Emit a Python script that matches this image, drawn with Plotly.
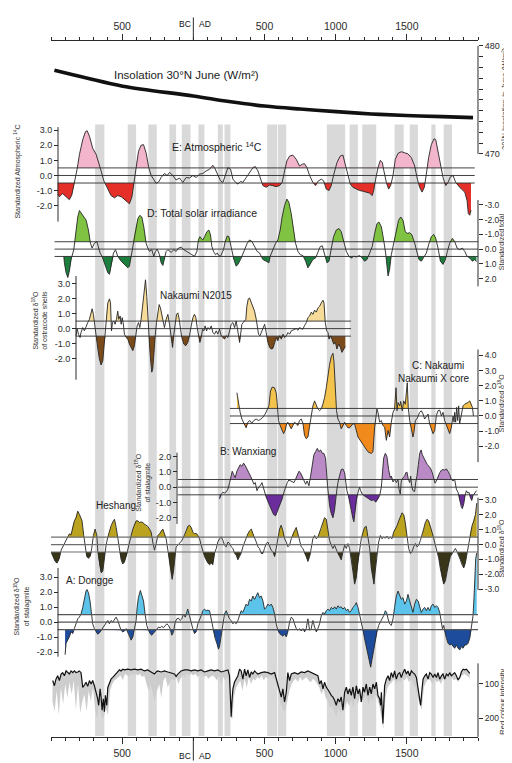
import numpy as np
import plotly.graph_objects as go

# ---------------- data (years AD; BC negative) ----------------
ins_points = [(-976, 477.75), (-750, 477.03), (-496, 476.27), (0, 475.36), (250, 474.85), (500, 474.43),
              (750, 474.15), (1004, 473.91), (1250, 473.7), (1497, 473.55), (1750, 473.45), (1965, 473.36)]

e_points = [(-953, -1.25), (-941, -1.4), (-918, -1.2), (-894, -1.43), (-871, -1.6), (-854, -1.3), (-836, -0.57), (-817, 0.4),
            (-800, 1.4), (-777, 2.37), (-758, 2.9), (-746, 2.96), (-730, 2.6), (-707, 1.8), (-683, 1.4), (-660, 0.74),
            (-648, 0.3), (-629, -0.35), (-606, -0.78), (-578, -1.33), (-554, -1.48), (-531, -1.33), (-507, -1.4),
            (-479, -1.6), (-449, -1.87), (-432, -1.43), (-418, -0.57), (-402, 0.74), (-385, 1.6), (-367, 2.0),
            (-350, 2.04), (-332, 1.5), (-313, 0.52), (-296, 0.0), (-278, -0.24), (-261, -0.52), (-242, -0.41),
            (-226, -0.13), (-203, 0.13), (-184, 0.0), (-167, 0.2), (-144, 0.0), (-121, -0.3), (-97, -0.17),
            (-74, -0.46), (-50, -0.13), (-27, -0.17), (-3, 0.0), (20, -0.13), (44, 0.09), (67, 0.13), (90, 0.3),
            (114, 0.41), (137, 0.67), (149, 0.52), (172, 0.09), (191, -0.35), (208, -0.46), (224, 0.0), (243, 0.52),
            (262, 0.41), (278, -0.24), (297, -0.46), (313, -0.57), (332, -0.39), (348, -0.46), (372, -0.13),
            (395, 0.2), (419, 0.52), (435, 0.59), (454, 0.3), (477, -0.35), (489, -0.67), (512, -0.78), (535, -0.63),
            (559, -0.67), (582, -0.74), (606, -0.67), (624, -0.46), (641, 0.3), (657, 0.96), (676, 1.28), (699, 1.35),
            (723, 1.07), (746, 0.63), (765, 0.74), (781, 0.78), (798, 0.52), (817, 0.0), (840, -0.46), (859, -0.67),
            (875, -0.39), (899, -0.24), (915, -0.35), (934, -0.9), (953, -1.0), (969, -0.67), (985, 0.0), (1009, 0.85),
            (1032, 1.28), (1051, 1.35), (1070, 0.63), (1086, 0.0), (1103, -0.57), (1121, -0.78), (1145, -0.9),
            (1168, -1.0), (1192, -1.04), (1215, -1.1), (1239, -1.17), (1257, -1.33), (1267, -1.0), (1281, -0.24),
            (1297, 0.52), (1314, 1.0), (1328, 0.85), (1339, 0.3), (1356, -0.46), (1372, -0.9), (1386, -0.67),
            (1403, 0.0), (1419, 1.07), (1438, 1.46), (1461, 1.57), (1485, 1.5), (1508, 1.43), (1532, 1.17),
            (1555, 0.63), (1574, -0.24), (1590, -0.78), (1607, -1.1), (1623, -0.78), (1637, 0.09), (1653, 1.17),
            (1672, 2.04), (1691, 2.43), (1703, 2.37), (1719, 1.6), (1736, 0.63), (1754, -0.13), (1773, -0.67),
            (1789, -0.46), (1806, -0.09), (1825, 0.0), (1843, -0.46), (1860, -0.67), (1883, -0.9), (1907, -1.1),
            (1923, -1.65), (1932, -2.52), (1942, -2.63), (1951, -2.3)]

d_points = [(-910, 0.49), (-906, 0.93), (-894, 1.6), (-882, 1.93), (-871, 1.49), (-859, 0.71), (-840, 0.04), (-824, -1.29),
            (-812, -2.18), (-800, -2.62), (-777, -2.29), (-753, -1.96), (-737, -1.29), (-723, -0.4), (-711, -0.07),
            (-695, -0.4), (-678, -0.51), (-667, -0.07), (-655, 0.27), (-641, 0.49), (-625, 0.93), (-601, 1.6),
            (-589, 1.71), (-578, 1.16), (-561, 0.27), (-547, 0.04), (-531, 0.49), (-507, 0.82), (-484, 1.04),
            (-460, 1.27), (-449, 1.16), (-437, 0.49), (-425, -0.4), (-409, -1.29), (-390, -2.07), (-376, -2.29),
            (-362, -2.18), (-348, -1.51), (-332, -0.4), (-320, -0.07), (-308, 0.16), (-292, 0.04), (-278, 0.49),
            (-266, 0.16), (-254, 0.0), (-238, 0.38), (-226, 0.93), (-214, 1.11), (-203, 0.71), (-191, 0.16),
            (-179, 0.04), (-156, 0.22), (-137, 0.04), (-121, 0.16), (-104, -0.07), (-85, -0.13), (-67, 0.04),
            (-50, 0.16), (-27, 0.27), (-10, 0.38), (8, 0.49), (25, 0.16), (36, -0.62), (46, -0.84), (55, -0.73),
            (67, -0.62), (79, -0.84), (95, -1.18), (109, -1.29), (121, -0.96), (130, -0.18), (142, 0.16), (156, 0.38),
            (168, 0.27), (179, 0.44), (191, 0.49), (201, 0.27), (212, 0.04), (224, -0.51), (238, -0.89), (250, -0.84),
            (262, -0.29), (273, 0.27), (285, 0.71), (301, 1.16), (313, 1.04), (332, 0.71), (348, 0.27), (365, -0.07),
            (379, -0.4), (395, -0.62), (412, -0.51), (430, -0.18), (449, 0.16), (465, 0.27), (477, 0.49), (489, 0.71),
            (512, 0.82), (531, 0.93), (540, 0.49), (559, 0.04), (578, -0.4), (594, -0.62), (610, -1.29), (624, -2.18),
            (641, -2.96), (657, -3.4), (671, -3.18), (688, -2.4), (704, -1.29), (718, -0.4), (735, 0.16), (751, 0.38),
            (770, 0.44), (789, 0.82), (805, 1.27), (821, 1.04), (840, 0.71), (859, 0.6), (875, 0.27), (892, -0.18),
            (906, -0.22), (922, 0.27), (939, 0.93), (953, 0.82), (969, -0.07), (985, -0.84), (1004, -1.29),
            (1023, -1.4), (1039, -1.18), (1056, -0.62), (1075, 0.16), (1093, 0.49), (1110, 0.6), (1126, 0.49),
            (1145, 0.53), (1168, 0.44), (1187, 0.6), (1203, 0.82), (1220, 0.71), (1239, 0.27), (1257, -0.18),
            (1274, -1.07), (1290, -1.73), (1304, -1.84), (1321, -1.51), (1337, -0.62), (1351, 0.27), (1368, 1.82),
            (1379, 1.38), (1391, 0.38), (1407, -0.4), (1426, -1.29), (1442, -1.96), (1457, -2.18), (1473, -1.96),
            (1489, -1.18), (1503, -1.07), (1520, -1.11), (1536, -0.96), (1555, -0.4), (1571, 0.27), (1585, 0.71),
            (1602, 0.82), (1621, 0.49), (1637, 0.27), (1653, -0.29), (1672, -0.84), (1689, -1.0), (1703, -0.73),
            (1719, -0.07), (1736, 0.82), (1754, 1.04), (1771, 0.71), (1785, 0.16), (1801, -0.4), (1820, -0.73),
            (1836, -0.51), (1853, -0.07), (1871, 0.04), (1890, -0.07), (1907, 0.16), (1923, 0.49), (1942, 0.6),
            (1961, 0.82), (1977, 0.71), (1989, 0.85)]

n_points = [(-824, -0.48), (-817, 0.0), (-807, -0.37), (-796, -0.59), (-789, -0.26), (-777, 0.07), (-765, -0.15),
            (-753, 0.18), (-742, 0.4), (-730, 0.62), (-718, 1.05), (-711, 1.32), (-702, 0.95), (-695, 0.4),
            (-688, -0.37), (-678, -0.81), (-671, -1.36), (-660, -2.02), (-648, -2.42), (-636, -2.13), (-625, -0.92),
            (-617, -0.04), (-610, 1.05), (-601, 1.71), (-589, 1.98), (-582, 1.71), (-575, -0.15), (-568, 0.4),
            (-559, 0.51), (-550, 0.29), (-540, 0.62), (-531, 1.16), (-524, 0.62), (-514, 0.84), (-507, 0.29),
            (-500, 0.73), (-493, 0.4), (-484, -0.37), (-472, -0.59), (-460, -0.7), (-449, -1.03), (-437, -1.25),
            (-425, -1.47), (-414, -1.14), (-404, -0.37), (-395, 0.18), (-385, 0.4), (-376, 0.07), (-367, 0.62),
            (-357, 1.49), (-348, 2.59), (-336, 3.25), (-327, 2.15), (-320, 0.73), (-313, -0.48), (-306, -1.36),
            (-299, -2.24), (-292, -2.9), (-285, -2.68), (-278, -1.58), (-268, -0.48), (-259, 0.4), (-249, 1.05),
            (-240, 1.6), (-231, 1.38), (-221, 0.95), (-212, 0.62), (-203, 0.07), (-191, 0.62), (-179, 0.95),
            (-167, 0.29), (-156, -0.59), (-146, -1.25), (-137, -0.37), (-128, 0.4), (-118, 0.95), (-109, 1.05),
            (-99, 0.62), (-90, -0.04), (-81, -0.59), (-67, -1.03), (-53, -1.14), (-39, -0.92), (-27, -0.48),
            (-15, 0.18), (-3, 0.73), (8, 0.95), (18, 0.73), (27, 0.07), (36, -0.48), (46, -0.92), (55, -0.59),
            (65, -0.04), (74, -0.15), (83, 0.18), (93, -0.15), (102, 0.07), (114, -0.04), (126, 0.18), (137, -0.26),
            (149, -0.37), (161, -0.15), (172, -0.37), (184, -0.04), (196, -0.48), (208, -0.59), (219, -0.7),
            (231, -0.48), (243, -0.59), (255, -0.15), (266, 0.29), (278, 0.4), (290, 0.07), (301, 0.51), (308, 0.18),
            (318, -0.48), (325, -0.92), (332, -0.37), (341, 0.29), (351, 0.4), (360, 0.51), (369, 0.62), (376, 1.49),
            (386, 1.98), (395, 2.04), (407, 1.71), (419, 1.49), (430, 1.16), (442, 0.62), (449, 0.29), (458, -0.37),
            (468, -0.48), (477, -0.26), (489, 0.07), (501, 0.29), (512, -0.26), (524, -0.92), (536, -1.25),
            (547, -1.36), (559, -1.32), (571, -0.92), (583, -0.59), (594, -0.81), (606, -0.48), (618, -0.7),
            (630, -0.37), (641, -0.59), (653, -0.48), (665, -0.26), (676, -0.37), (688, -0.15), (700, -0.09),
            (712, -0.04), (723, 0.0), (735, -0.11), (747, 0.07), (758, 0.0), (770, -0.04), (782, 0.22), (794, 0.4),
            (805, 0.73), (817, 0.84), (829, 1.1), (840, 0.95), (852, 1.23), (864, 1.1), (876, 1.38), (887, 1.49),
            (899, 1.71), (911, 1.89), (918, 1.71), (927, 0.4), (937, -0.15), (946, -0.26), (953, -0.7), (965, -0.48),
            (974, -0.7), (986, -1.03), (998, -0.92), (1009, -1.36), (1021, -1.03), (1033, -1.25), (1044, -1.58),
            (1056, -1.36), (1068, -1.19)]

c_points = [(306, 1.54), (317, 0.89), (329, 0.24), (341, -0.2), (355, -0.52), (371, -0.78), (383, -0.41), (397, -0.3),
            (411, -0.48), (425, -0.3), (441, -0.2), (458, -0.3), (472, -0.22), (488, -0.09), (505, 0.13), (519, 0.39),
            (531, 0.67), (542, 1.65), (554, 1.91), (570, 1.87), (582, 1.54), (589, 0.89), (598, -0.3), (610, -0.63),
            (622, -0.85), (634, -1.17), (645, -0.96), (655, -0.52), (664, -0.41), (676, -0.63), (688, -0.85),
            (699, -0.63), (711, -0.41), (723, -0.52), (735, -0.63), (746, -0.3), (758, -0.2), (770, -0.48),
            (781, -1.28), (793, -1.5), (805, -1.39), (816, -0.74), (828, -0.09), (840, 0.67), (852, 1.0), (863, 0.67),
            (875, 0.46), (887, 0.35), (899, 0.46), (910, 0.78), (922, 1.22), (934, 1.87), (945, 2.74), (957, 3.39),
            (969, 3.93), (981, 4.15), (988, 3.61), (997, 1.65), (1006, 0.35), (1016, -0.2), (1027, -0.41),
            (1039, -0.85), (1051, -0.63), (1063, -0.41), (1074, -0.63), (1086, -0.78), (1098, -0.78), (1110, -0.63),
            (1121, -0.52), (1133, -0.52), (1145, -0.96), (1157, -1.39), (1180, -1.72), (1203, -2.04), (1227, -2.37),
            (1250, -2.48), (1262, -2.37), (1274, -0.74), (1281, -0.09), (1290, 0.46), (1297, 0.24), (1309, -0.41),
            (1321, -0.3), (1332, -0.63), (1344, -0.74), (1356, -1.61), (1368, -0.96), (1379, -1.39), (1391, -0.41),
            (1403, 0.24), (1414, 0.46), (1424, 1.87), (1431, 0.35), (1438, 0.89), (1450, 0.67), (1457, 0.96),
            (1468, 0.35), (1478, 1.0), (1489, 0.78), (1496, 1.33), (1503, 2.2), (1510, 0.57), (1520, -0.3),
            (1532, -0.85), (1543, -1.39), (1550, -1.07), (1560, -0.3), (1574, -0.13), (1590, 0.24), (1602, 0.35),
            (1614, 0.13), (1625, -0.2), (1637, 0.0), (1649, 0.13), (1660, -0.52), (1672, -0.85), (1684, -1.17),
            (1696, -0.96), (1707, 0.0), (1719, 0.35), (1731, 0.39), (1743, 0.0), (1754, 0.24), (1766, -0.3),
            (1778, -0.63), (1789, -0.96), (1801, -1.17), (1813, -0.74), (1825, 0.0), (1832, -0.41), (1836, 0.24),
            (1843, -0.41), (1850, 0.57), (1857, -0.3), (1864, 0.67), (1871, -0.52), (1883, 0.24), (1895, 0.67),
            (1906, 0.78), (1918, 0.83), (1930, 0.89), (1942, 1.0), (1954, 0.78), (1961, 0.57), (1968, 0.0)]

w_points = [(184, -0.77), (196, -0.45), (208, -0.34), (219, -0.38), (231, -0.3), (243, -0.13), (255, 0.3), (266, 0.72),
            (273, 1.04), (283, 0.83), (294, 0.62), (306, 1.04), (318, 1.26), (329, 1.47), (341, 1.36), (353, 1.57),
            (365, 1.4), (376, 1.15), (390, 0.94), (402, 0.72), (414, 0.4), (426, 0.19), (435, 0.3), (447, -0.23),
            (458, 0.0), (470, 0.09), (482, 0.3), (500, -0.34), (512, -0.66), (531, -1.09), (547, -1.4), (564, -1.79),
            (578, -1.87), (594, -1.51), (610, -1.09), (624, -0.77), (636, -0.34), (648, 0.0), (660, 0.3), (671, 0.47),
            (683, 0.4), (695, 0.34), (707, 0.3), (718, 0.51), (730, 0.77), (742, 1.04), (753, 0.94), (765, 0.72),
            (777, 0.4), (789, 0.19), (800, 0.4), (812, 0.09), (824, 0.72), (835, 1.57), (847, 2.11), (859, 2.32),
            (871, 2.53), (882, 2.32), (894, 2.43), (906, 2.21), (917, 2.21), (929, 1.89), (936, 0.72), (943, 0.09),
            (950, -0.55), (957, -1.19), (969, -1.72), (981, -2.0), (992, -1.51), (999, -0.77), (1009, -0.13),
            (1018, 0.4), (1028, 0.83), (1039, 1.15), (1051, 1.19), (1063, 0.94), (1070, 0.4), (1079, -0.23),
            (1089, -0.55), (1098, -1.09), (1110, -1.51), (1121, -2.04), (1128, -2.26), (1135, -1.72), (1145, -0.87),
            (1157, -0.34), (1168, 0.0), (1175, -0.23), (1187, -0.45), (1199, -0.55), (1215, -0.66), (1234, -0.77),
            (1250, -0.87), (1267, -0.83), (1281, -0.98), (1297, -0.77), (1309, -0.55), (1321, 0.0), (1328, 0.94),
            (1337, 1.89), (1349, 2.21), (1360, 2.0), (1372, 1.15), (1384, 0.62), (1391, 0.72), (1403, 0.34),
            (1414, 0.51), (1426, 0.3), (1438, 0.51), (1445, -0.13), (1454, -0.45), (1461, 0.4), (1473, 0.62),
            (1485, 0.72), (1492, 0.94), (1501, 0.98), (1510, 0.55), (1520, 0.3), (1527, 0.72), (1534, 0.09),
            (1543, -0.23), (1555, -0.28), (1562, 0.3), (1571, 0.72), (1581, 1.47), (1590, 2.21), (1600, 2.43),
            (1609, 2.11), (1621, 1.89), (1632, 1.68), (1644, 1.47), (1656, 1.36), (1668, 1.19), (1679, 0.94),
            (1689, 0.51), (1698, 0.26), (1707, 0.4), (1719, 0.72), (1731, 0.94), (1743, 1.11), (1754, 1.15),
            (1766, 1.11), (1778, 1.19), (1789, 1.04), (1801, 0.83), (1813, 0.51), (1825, 0.4), (1836, 0.51),
            (1848, -0.13), (1860, -0.34), (1871, -0.87), (1883, -1.3), (1890, -1.4), (1900, -1.09), (1909, -0.55),
            (1918, -0.23), (1928, -0.38), (1937, -0.34), (1946, -0.66), (1956, -0.87), (1965, -0.55), (1977, -0.34),
            (1989, -0.23)]

h_points = [(-1000, -0.48), (-988, -0.8), (-971, -1.13), (-957, -1.24), (-941, -0.91), (-929, -0.37), (-918, -0.15),
            (-906, 0.0), (-894, 0.28), (-882, 0.5), (-871, 0.72), (-859, 0.65), (-847, 1.26), (-836, 1.59),
            (-824, 1.8), (-812, 2.24), (-800, 2.02), (-789, 1.7), (-782, 1.59), (-770, 0.61), (-760, -0.26),
            (-749, -0.8), (-737, -0.91), (-725, -0.8), (-714, -0.26), (-702, 0.61), (-690, 1.04), (-678, 0.61),
            (-671, -0.48), (-660, -1.35), (-648, -1.89), (-636, -1.78), (-625, -0.91), (-613, -0.04), (-601, 0.5),
            (-589, 0.93), (-578, 1.26), (-566, 1.52), (-554, 1.7), (-542, 1.15), (-531, 0.39), (-519, -0.48),
            (-507, -1.02), (-496, -1.3), (-484, -1.17), (-472, -0.8), (-460, -0.26), (-449, 0.28), (-437, 0.61),
            (-425, 1.04), (-414, 1.37), (-402, 1.59), (-390, 1.59), (-378, 1.48), (-367, 1.52), (-355, 1.48),
            (-343, 1.37), (-332, 1.3), (-320, 1.22), (-308, 1.04), (-296, 0.83), (-285, 0.17), (-273, -0.37),
            (-261, 0.07), (-249, 0.61), (-238, 0.72), (-226, 0.93), (-214, 1.04), (-203, 0.72), (-191, 0.39),
            (-179, -0.37), (-167, -1.24), (-156, -2.0), (-149, -2.33), (-139, -1.78), (-132, -0.91), (-121, -0.15),
            (-109, -0.04), (-97, 0.07), (-85, 0.22), (-74, 0.39), (-62, 0.61), (-50, 0.93), (-39, 1.22), (-27, 1.3),
            (-15, 1.15), (-3, 0.83), (8, 0.72), (20, 0.76), (32, 0.61), (44, 0.39), (55, -0.04), (67, -0.48),
            (79, -0.8), (90, -1.02), (102, -1.24), (114, -1.35), (126, -1.24), (137, -1.35), (149, -0.59),
            (161, -0.26), (172, 0.17), (184, 0.39), (196, 0.5), (208, 0.28), (219, -0.04), (231, -0.15), (243, 0.17),
            (255, 0.07), (266, -0.15), (278, -0.26), (290, -0.59), (301, -0.7), (313, -1.02), (325, -0.8),
            (336, -0.59), (348, -0.15), (360, 0.17), (372, 0.5), (383, 0.72), (395, 0.93), (407, 1.04), (419, 0.72),
            (430, 0.5), (442, 0.17), (454, -0.15), (465, -0.26), (477, -0.59), (489, -0.59), (500, -0.26), (512, 0.07),
            (524, 0.17), (535, -0.04), (547, -0.37), (559, -0.48), (571, -0.8), (582, -0.26), (594, 0.39), (606, 1.04),
            (617, 1.3), (629, 0.93), (641, 0.39), (653, 0.17), (664, -0.15), (676, -0.04), (688, 0.39), (699, 0.72),
            (711, 0.93), (723, 1.15), (735, 0.72), (746, 0.17), (758, -0.15), (770, -0.26), (781, -0.59), (793, -0.8),
            (805, -1.13), (817, -0.8), (828, -0.26), (840, 0.39), (852, 0.61), (864, 0.39), (875, 0.5), (887, 0.83),
            (899, 1.04), (910, 1.48), (922, 1.8), (934, 1.7), (946, 0.83), (957, 0.28), (969, -0.04), (981, -0.26),
            (992, -0.04), (1004, -0.37), (1016, -0.59), (1028, -0.8), (1039, -1.02), (1051, -0.48), (1063, -0.04),
            (1075, -0.26), (1086, 0.07), (1098, -0.26), (1110, -0.91), (1121, -1.78), (1133, -2.65), (1145, -2.22),
            (1157, -1.13), (1168, -0.26), (1180, 0.39), (1192, 0.83), (1203, 1.15), (1215, 1.22), (1227, 0.61),
            (1239, -0.26), (1250, -1.57), (1262, -2.43), (1269, -2.65), (1278, -1.78), (1290, -0.59), (1302, 0.17),
            (1314, 0.61), (1325, 0.39), (1337, 0.5), (1349, 0.43), (1360, 0.57), (1372, 0.39), (1384, 0.5),
            (1396, 0.39), (1407, 0.83), (1419, 1.04), (1431, 1.26), (1443, 1.59), (1454, 1.91), (1466, 2.13),
            (1478, 2.02), (1489, 1.48), (1501, 0.61), (1513, -0.26), (1525, -0.59), (1536, -0.48), (1548, -0.15),
            (1560, 0.07), (1571, -0.15), (1583, -0.04), (1595, 0.28), (1607, 0.61), (1618, 1.04), (1630, 1.48),
            (1642, 1.7), (1653, 1.59), (1665, 1.26), (1677, 0.83), (1689, 0.39), (1700, -0.04), (1712, -0.37),
            (1724, -0.91), (1735, -1.57), (1747, -2.22), (1759, -2.65), (1771, -2.43), (1782, -1.78), (1794, -1.24),
            (1806, -0.8), (1818, -0.59), (1829, -0.37), (1841, -0.26), (1853, -0.48), (1864, -0.7), (1876, -1.02),
            (1888, -1.35), (1900, -1.57), (1911, -1.24), (1923, -0.59), (1935, 0.17), (1946, 0.83), (1958, 1.26),
            (1970, 1.59), (1982, 2.02), (1991, 2.78)]

a_points = [(-901, -2.17), (-894, -1.41), (-883, -1.2), (-871, -0.98), (-859, -0.65), (-847, -0.76), (-836, -0.43),
            (-824, -0.11), (-812, 0.22), (-801, 0.33), (-789, 0.54), (-777, 0.98), (-765, 1.63), (-754, 2.07),
            (-747, 2.17), (-737, 1.96), (-726, 1.41), (-718, 0.65), (-707, -0.11), (-695, -0.43), (-683, -0.65),
            (-672, -0.8), (-660, -0.72), (-648, -0.54), (-636, -0.43), (-625, -0.22), (-613, 0.0), (-601, 0.11),
            (-590, -0.11), (-578, 0.11), (-566, 0.0), (-554, 0.22), (-543, 0.33), (-531, 0.11), (-519, -0.33),
            (-508, -0.54), (-496, -0.65), (-484, -0.59), (-472, -0.43), (-461, -0.65), (-449, -0.87), (-437, -1.2),
            (-425, -0.98), (-414, -0.43), (-402, 0.11), (-395, 0.98), (-386, 1.63), (-372, 2.11), (-362, 1.85),
            (-350, 1.41), (-339, 0.54), (-327, -0.22), (-315, -0.54), (-304, -0.76), (-292, -0.87), (-280, -0.72),
            (-268, -0.59), (-257, -0.43), (-245, -0.33), (-233, -0.37), (-222, -0.28), (-210, -0.37), (-198, -0.22),
            (-186, -0.11), (-175, -0.22), (-163, -0.43), (-151, -0.87), (-139, -0.65), (-128, 0.0), (-116, 0.22),
            (-104, 0.26), (-93, 0.11), (-81, 0.22), (-69, 0.54), (-57, 0.33), (-46, 0.65), (-39, 0.87), (-27, 0.43),
            (-15, -0.11), (-4, -0.43), (8, -0.76), (20, -0.65), (32, -0.11), (43, 0.22), (55, 0.43), (67, 0.76),
            (78, 0.87), (90, 0.76), (102, 0.8), (114, 0.76), (121, 0.43), (130, -0.11), (142, -0.65), (153, -1.09),
            (165, -1.41), (177, -1.8), (184, -1.63), (196, -0.76), (207, -0.11), (219, 0.54), (231, 0.76), (243, 0.43),
            (254, 0.22), (266, 0.11), (278, -0.11), (289, 0.0), (301, -0.11), (313, 0.11), (325, 0.54), (336, 0.76),
            (348, 0.65), (360, 0.98), (371, 1.2), (383, 1.09), (395, 1.52), (407, 1.41), (418, 1.74), (430, 1.52),
            (442, 1.74), (453, 1.96), (465, 1.63), (477, 1.74), (489, 1.41), (500, 0.87), (512, 0.98), (524, 1.2),
            (536, 1.09), (547, 1.2), (559, 0.98), (571, 0.54), (582, -0.11), (594, -0.54), (606, -0.76), (618, -0.87),
            (629, -0.93), (641, -0.8), (653, -0.98), (664, -0.65), (676, 0.0), (688, 0.33), (700, 0.22), (711, -0.11),
            (723, -0.43), (735, -0.54), (746, -0.43), (758, -0.59), (770, -0.43), (782, -0.65), (793, -0.43),
            (805, 0.22), (817, -0.54), (828, -0.43), (840, 0.11), (852, -0.33), (864, -0.65), (875, -0.43),
            (887, -0.11), (899, 0.43), (911, 0.65), (922, 0.54), (934, 0.76), (946, 0.87), (957, 0.76), (969, 0.98),
            (981, 0.87), (993, 1.02), (1004, 0.87), (1016, 1.09), (1028, 0.98), (1039, 1.02), (1051, 0.87),
            (1063, 0.98), (1075, 0.76), (1086, 0.87), (1098, 0.65), (1110, 0.76), (1121, 0.98), (1133, 1.09),
            (1145, 1.3), (1157, 0.98), (1168, 0.54), (1180, 0.0), (1192, -0.54), (1203, -1.09), (1215, -1.63),
            (1227, -2.17), (1239, -2.61), (1246, -3.0), (1255, -2.5), (1267, -1.85), (1278, -1.2), (1290, -0.65),
            (1302, -0.22), (1314, 0.0), (1325, 0.22), (1337, 0.43), (1349, 0.76), (1358, 0.65), (1368, 0.22),
            (1379, -0.11), (1391, -0.22), (1403, 0.22), (1414, 0.98), (1426, 1.74), (1438, 2.07), (1450, 1.74),
            (1461, 1.52), (1473, 1.63), (1485, 1.2), (1497, 1.41), (1508, 1.85), (1520, 1.41), (1532, 0.98),
            (1543, 0.65), (1555, 1.2), (1567, 1.52), (1579, 1.41), (1590, 0.98), (1602, 0.65), (1614, 0.87),
            (1626, 0.98), (1637, 0.76), (1649, 0.98), (1661, 0.76), (1672, 1.09), (1684, 1.2), (1696, 0.98),
            (1708, 1.09), (1719, 0.98), (1731, 0.65), (1743, 0.0), (1750, -0.43), (1759, -0.22), (1766, -0.65),
            (1778, -1.09), (1790, -1.41), (1801, -1.52), (1813, -1.46), (1825, -1.63), (1836, -1.74), (1848, -1.52),
            (1860, -1.74), (1872, -1.85), (1883, -1.63), (1895, -1.74), (1907, -1.52), (1919, -1.52), (1930, -1.41),
            (1942, -1.09), (1954, -0.43), (1965, 0.43), (1972, 1.63), (1977, 2.93), (1984, 4.24), (1991, 4.6)]

red_points = [(-988, 90), (-976, 105), (-965, 86), (-953, 76), (-941, 90), (-929, 71), (-918, 67), (-906, 76), (-894, 62),
              (-883, 67), (-871, 71), (-859, 62), (-847, 67), (-836, 62), (-824, 67), (-812, 65), (-801, 62), (-789, 67),
              (-777, 110), (-765, 103), (-754, 95), (-742, 107), (-730, 90), (-718, 100), (-707, 90), (-695, 105),
              (-683, 124), (-672, 143), (-665, 162), (-655, 114), (-648, 138), (-641, 176), (-632, 143), (-625, 181),
              (-618, 133), (-608, 162), (-601, 110), (-590, 95), (-578, 86), (-566, 81), (-554, 76), (-543, 71),
              (-531, 65), (-519, 59), (-508, 62), (-496, 57), (-484, 59), (-461, 57), (-437, 59), (-414, 57), (-390, 59),
              (-367, 57), (-343, 62), (-320, 59), (-297, 65), (-273, 71), (-261, 65), (-250, 62), (-226, 65), (-203, 62),
              (-179, 65), (-156, 67), (-133, 71), (-121, 78), (-109, 71), (-86, 62), (-62, 59), (-39, 59), (-15, 62),
              (8, 59), (32, 62), (55, 59), (78, 65), (102, 62), (125, 59), (149, 62), (172, 59), (196, 65), (219, 62),
              (243, 59), (254, 76), (261, 143), (266, 195), (271, 152), (278, 114), (289, 95), (301, 86), (313, 76),
              (325, 57), (336, 62), (348, 86), (360, 57), (371, 76), (383, 59), (395, 81), (407, 65), (418, 71),
              (430, 62), (442, 67), (453, 71), (477, 67), (500, 65), (524, 67), (547, 71), (571, 67), (594, 100),
              (606, 124), (618, 138), (629, 114), (641, 152), (653, 124), (664, 67), (676, 90), (688, 71), (711, 67),
              (735, 71), (758, 65), (782, 67), (805, 62), (828, 67), (852, 71), (875, 76), (887, 100), (899, 90),
              (911, 114), (922, 95), (934, 109), (946, 119), (957, 124), (969, 133), (981, 138), (993, 148), (1004, 162),
              (1016, 143), (1028, 152), (1039, 138), (1051, 176), (1063, 124), (1075, 109), (1086, 129), (1098, 114),
              (1110, 133), (1121, 109), (1133, 143), (1145, 105), (1157, 129), (1168, 114), (1180, 152), (1192, 109),
              (1203, 124), (1215, 100), (1227, 133), (1239, 109), (1250, 129), (1262, 100), (1274, 114), (1286, 95),
              (1297, 133), (1309, 143), (1316, 162), (1321, 124), (1332, 215), (1339, 143), (1344, 105), (1356, 86),
              (1368, 76), (1379, 90), (1391, 67), (1403, 81), (1414, 62), (1426, 86), (1438, 71), (1450, 67), (1461, 81),
              (1473, 67), (1485, 57), (1497, 71), (1508, 62), (1520, 76), (1532, 62), (1543, 67), (1555, 71), (1567, 81),
              (1579, 110), (1590, 143), (1597, 162), (1607, 114), (1614, 86), (1626, 76), (1637, 71), (1649, 86),
              (1661, 67), (1672, 71), (1684, 81), (1696, 71), (1708, 81), (1719, 67), (1731, 86), (1743, 76), (1754, 71),
              (1766, 86), (1778, 71), (1790, 76), (1801, 67), (1813, 76), (1825, 71), (1836, 67), (1848, 76), (1860, 88),
              (1872, 81), (1883, 65), (1895, 57), (1907, 59), (1919, 57), (1930, 62), (1942, 69)]

red_spread = [(-990, 150), (-975, 180), (-960, 120), (-945, 190), (-930, 110), (-915, 160), (-900, 100), (-885, 140),
              (-870, 95), (-855, 130), (-840, 90), (-825, 175), (-810, 100), (-795, 185), (-780, 150), (-765, 130),
              (-750, 180), (-735, 120), (-720, 150), (-705, 110), (-690, 175), (-675, 200), (-660, 150), (-645, 195),
              (-630, 200), (-615, 170), (-600, 190), (-585, 120), (-570, 100), (-555, 90), (-540, 85), (-525, 80),
              (-510, 75), (-495, 90), (-480, 70), (-465, 75), (-450, 80), (-435, 70), (-420, 75), (-405, 70), (-390, 75),
              (-375, 70), (-360, 80), (-345, 75), (-330, 95), (-315, 120), (-300, 100), (-285, 130), (-270, 150),
              (-255, 120), (-240, 100), (-225, 140), (-210, 90), (-195, 80), (-180, 110), (-165, 95), (-150, 85),
              (-135, 90), (-120, 80), (-105, 100), (-90, 85), (-75, 75), (-60, 80), (-45, 70), (-30, 75), (-15, 70),
              (0, 75), (15, 70), (30, 80), (45, 75), (60, 70), (75, 80), (90, 75), (105, 85), (120, 80), (135, 75),
              (150, 80), (165, 90), (180, 75), (195, 100), (210, 80), (225, 90), (240, 80), (255, 110), (265, 200),
              (275, 200), (285, 140), (300, 110), (315, 100), (330, 90), (345, 120), (360, 85), (375, 110), (390, 80),
              (405, 100), (420, 85), (435, 90), (450, 80), (465, 85), (480, 75), (495, 90), (510, 80), (525, 85),
              (540, 75), (555, 80), (570, 85), (585, 100), (600, 130), (615, 160), (630, 175), (645, 180), (660, 150),
              (675, 120), (690, 100), (705, 90), (720, 85), (735, 95), (750, 80), (765, 90), (780, 85), (795, 80),
              (810, 90), (825, 95), (840, 85), (855, 90), (870, 100), (885, 110), (900, 130), (915, 115), (930, 140),
              (945, 150), (960, 170), (975, 165), (990, 180), (1005, 195), (1020, 170), (1035, 185), (1050, 160),
              (1065, 175), (1080, 150), (1095, 165), (1110, 145), (1125, 170), (1140, 140), (1155, 160), (1170, 135),
              (1185, 150), (1200, 140), (1215, 130), (1230, 160), (1245, 140), (1260, 150), (1275, 130), (1290, 140),
              (1305, 160), (1320, 190), (1335, 230), (1350, 140), (1365, 110), (1380, 100), (1395, 95), (1410, 85),
              (1425, 100), (1440, 90), (1455, 95), (1470, 85), (1485, 90), (1500, 80), (1515, 95), (1530, 85),
              (1545, 100), (1560, 110), (1575, 130), (1590, 160), (1605, 175), (1620, 110), (1635, 95), (1650, 85),
              (1665, 90), (1680, 100), (1695, 85), (1710, 95), (1725, 90), (1740, 100), (1755, 85), (1770, 90),
              (1785, 80), (1800, 85), (1815, 80), (1830, 90), (1845, 85), (1860, 95), (1875, 80), (1890, 75),
              (1905, 70), (1920, 75), (1935, 80), (1942, 85)]

band_starts = [-690, -461, -316, -168, -81, 36, 172, 219, 519, 594, 938, 1098, 1187, 1414, 1520, 1672, 1759]
band_ends = [-625, -402, -257, -121, -20, 78, 207, 261, 589, 653, 1067, 1156, 1285, 1478, 1578, 1702, 1817]

x_tick_years = [-500, 500, 1000, 1500]
x_tick_text = ['500', '500', '1000', '1500']
x_minor_years = list(range(-1000, 2001, 100))
std_levels = [0.5, 0.0, -0.5]

# ---------------- geometry helpers (layout only) ----------------
W, H = 512, 763
ML, MR, MT, MB = 43, 42, 32, 21
PW, PH = W - ML - MR, H - MT - MB
FONT = "Liberation Sans, Arial, Helvetica, sans-serif"
INK = '#2b2b2b'


def pyp(py):
    return (H - MB - py) / PH


def pxp(px):
    return (px - ML) / PW


def yaxis_cfg(ref_val, ref_py, k, dom, rev, side, xpos, tvals, ttext, minor_vals=None, fsize=9):
    top, bot = dom
    if rev:
        vt = ref_val + (top - ref_py) / k
        vb = ref_val + (bot - ref_py) / k
    else:
        vt = ref_val + (ref_py - top) / k
        vb = ref_val + (ref_py - bot) / k
    cfg = dict(domain=[pyp(bot), pyp(top)], range=[vb, vt], anchor='free', position=pxp(xpos), side=side,
               showline=False, showgrid=False, zeroline=False, ticks='outside', ticklen=4, tickwidth=1,
               tickcolor=INK, tickvals=tvals, ticktext=ttext, fixedrange=True,
               tickfont=dict(size=fsize, color=INK, family=FONT))
    if minor_vals is not None:
        cfg['minor'] = dict(tickmode='array', tickvals=minor_vals, ticks='outside', ticklen=4, tickcolor=INK)
    return cfg


def split(points):
    return np.array([p[0] for p in points], float), np.array([p[1] for p in points], float)


def densify(x, v, levels):
    xs, vs = [x[0]], [v[0]]
    for i in range(1, len(x)):
        x0, x1, v0, v1 = x[i - 1], x[i], v[i - 1], v[i]
        cr = []
        for L in levels:
            if (v0 - L) * (v1 - L) < 0:
                t = (L - v0) / (v1 - v0)
                cr.append((x0 + t * (x1 - x0), L))
        for c in sorted(cr):
            xs.append(c[0]); vs.append(c[1])
        xs.append(x1); vs.append(v1)
    return np.array(xs), np.array(vs)


fig = go.Figure()
shapes = []
annotations = []

# gray bands
for b0, b1 in zip(band_starts, band_ends):
    shapes.append(dict(type='rect', xref='x', yref='paper', x0=b0, x1=b1, y0=pyp(741), y1=pyp(118),
                       fillcolor='#d9d9d9', line=dict(width=0), layer='below'))

panels = [
    (e_points, 'y2', '#f2b5cc', '#e5302a', (-953, 1977), INK),
    (d_points, 'y3', '#1d7f3d', '#80c342', (-975, 2015), INK),
    (n_points, 'y4', '#f6dc98', '#7a4a1b', (-826, 1108), INK),
    (c_points, 'y5', '#f3c34c', '#f08a1d', (257, 2015), INK),
    (w_points, 'y6', '#b98ac6', '#6b2d9b', (-109, 2015), INK),
    (h_points, 'y7', '#bba21f', '#383519', (-1000, 2015), '#6e6e6e'),
    (a_points, 'y8', '#5cc4ea', '#1d4c9c', (-953, 2015), '#555555'),
]

for pts, yid, cpos, cneg, span, lcol in panels:
    x, v = split(pts)
    xi, vi = densify(x, v, [0.5, -0.5])
    up = np.maximum(vi, 0.5)
    dn = np.minimum(vi, -0.5)
    fig.add_trace(go.Scatter(x=np.concatenate([xi, xi[::-1]]), y=np.concatenate([up, np.full(len(xi), 0.5)]),
                             fill='toself', fillcolor=cpos, line=dict(width=0), mode='lines', yaxis=yid,
                             hoverinfo='skip', showlegend=False))
    fig.add_trace(go.Scatter(x=np.concatenate([xi, xi[::-1]]), y=np.concatenate([dn, np.full(len(xi), -0.5)]),
                             fill='toself', fillcolor=cneg, line=dict(width=0), mode='lines', yaxis=yid,
                             hoverinfo='skip', showlegend=False))
    fig.add_trace(go.Scatter(x=x, y=v, mode='lines', line=dict(color='#262626', width=0.9), yaxis=yid,
                             showlegend=False))
    for L in std_levels:
        shapes.append(dict(type='line', xref='x', yref=yid, x0=span[0], x1=span[1], y0=L, y1=L,
                           line=dict(color=lcol, width=1.1 if lcol != INK else 0.9)))

# insolation
ix, iv = split(ins_points)
fig.add_trace(go.Scatter(x=ix, y=iv, mode='lines', line=dict(color='#111111', width=3.6, shape='spline'),
                         yaxis='y', showlegend=False))
# dummy for top axis
fig.add_trace(go.Scatter(x=[-1000, 2000], y=[470, 470], mode='lines', line=dict(width=0), xaxis='x2', yaxis='y',
                         hoverinfo='skip', showlegend=False))

# red colour intensity
rx, rv = split(red_points)
sx, sv = split(red_spread)
fig.add_trace(go.Scatter(x=np.concatenate([rx, sx[::-1]]), y=np.concatenate([rv, sv[::-1]]), fill='toself',
                         fillcolor='#cdcdcd', line=dict(width=0), mode='lines', yaxis='y9', hoverinfo='skip',
                         showlegend=False))
fig.add_trace(go.Scatter(x=rx, y=rv, mode='lines', line=dict(color='#111111', width=1.2), yaxis='y9',
                         showlegend=False))

std6 = [3, 2, 1, 0, -1, -2]
std6t = ['3.0', '2.0', '1.0', '0.0', '-1.0', '-2.0']
layout_axes = dict(
    yaxis=yaxis_cfg(480, 38, 11, (34, 152), False, 'right', 470, [470, 480], ['470', '480'],
                    minor_vals=list(range(471, 480))),
    yaxis2=yaxis_cfg(0, 170, 15.4, (115, 222), False, 'left', 50, std6, std6t),
    yaxis3=yaxis_cfg(0, 245, 15, (190, 290), True, 'right', 470, [-3, -2, -1, 0, 1, 2],
                     ['-3.0', '-2.0', '-1.0', '0.0', '1.0', '2.0'], fsize=8.5),
    yaxis4=yaxis_cfg(0, 326, 15.3, (266, 382), False, 'left', 68, std6, std6t),
    yaxis5=yaxis_cfg(0, 415, 15.4, (340, 466), False, 'right', 470, [4, 3, 2, 1, 0, -1, -2],
                     ['4.0', '3.0', '2.0', '1.0', '0.0', '-1.0', '-2.0'], fsize=8.5),
    yaxis6=yaxis_cfg(0, 487.5, 15.6, (440, 530), False, 'left', 169, [2, 1, 0, -1, -2],
                     ['2.0', '1.0', '0.0', '-1.0', '-2.0']),
    yaxis7=yaxis_cfg(0, 546, 15.2, (494, 598), False, 'right', 470, [3, 2, 1, 0, -1, -2, -3],
                     ['3.0', '2.0', '1.0', '0.0', '-1.0', '-2.0', '-3.0'], fsize=8.5),
    yaxis8=yaxis_cfg(0, 625, 15.3, (548, 676), False, 'left', 50, std6, std6t),
    yaxis9=yaxis_cfg(100, 688, 0.35, (660, 742), True, 'right', 470, [100, 200], ['100', '200'], fsize=8.5),
)

axis_lines = [('y', 470, 470, 480), ('y2', 50, -3.05, 3.2), ('y3', 470, -3.33, 2.53), ('y4', 68, -3.4, 3.5),
              ('y5', 470, -3.05, 4.4), ('y6', 169, -2.4, 2.25), ('y7', 470, -3.05, 3.15), ('y8', 50, -2.3, 3.6),
              ('y9', 470, 40, 254)]
for yid, xpx, v0, v1 in axis_lines:
    shapes.append(dict(type='line', xref='paper', yref=yid, x0=pxp(xpx), x1=pxp(xpx), y0=v0, y1=v1,
                       line=dict(color=INK, width=1)))

# BC | AD separators
shapes.append(dict(type='line', xref='x', yref='paper', x0=0, x1=0, y0=pyp(32), y1=pyp(9),
                   line=dict(color=INK, width=1)))
shapes.append(dict(type='line', xref='x', yref='paper', x0=0, x1=0, y0=pyp(742), y1=pyp(766),
                   line=dict(color=INK, width=1)))

xcommon = dict(range=[-1000, 2000], showgrid=False, zeroline=False, showline=True, linecolor=INK, linewidth=1,
               ticks='outside', ticklen=6, tickcolor=INK, tickvals=x_tick_years, ticktext=x_tick_text,
               tickfont=dict(size=10.5, color=INK, family=FONT), fixedrange=True,
               minor=dict(tickmode='array', tickvals=x_minor_years, ticks='outside', ticklen=3, tickcolor=INK))


def ann(text, px, py, size=10, angle=0, xanchor='left', color='#222222'):
    return dict(text=text, x=pxp(px), y=pyp(py), xref='paper', yref='paper', showarrow=False,
                xanchor=xanchor, yanchor='middle', textangle=angle, borderpad=0,
                font=dict(size=size, color=color, family=FONT))


TC = '#333333'
annotations += [
    ann('BC', 177, 16, 8.5, xanchor='center', color='#111'),
    ann('AD', 197, 16, 8.5, xanchor='center', color='#111'),
    ann('BC', 177, 761, 8.5, xanchor='center', color='#111'),
    ann('AD', 197, 761, 8.5, xanchor='center', color='#111'),
    ann('Insolation 30°N June (W/m²)', 105, 68, 11.5),
    ann('E: Atmospheric <sup>14</sup>C', 163, 140, 10.5),
    ann('D: Total solar irradiance', 138, 208, 10.5),
    ann('Nakaumi N2015', 151, 292, 10),
    ann('C: Nakaumi', 430, 364, 10, xanchor='center'),
    ann('Nakaumi X core', 426, 377, 10, xanchor='center'),
    ann('B: Wanxiang', 211, 451, 10),
    ann('Heshang', 87, 506, 10),
    ann('A: Dongge', 57, 583, 10),
    # left axis titles
    ann('Standardized Atmospheric <sup>14</sup>C', 10, 166, 7, angle=-90, xanchor='center', color=TC),
    ann('Standardized δ<sup>18</sup>O<br>of ostracode shells', 32, 318, 7, angle=-90, xanchor='center',
        color=TC),
    ann('Standardized δ<sup>18</sup>O<br>of stalagmite', 135, 483, 7, angle=-90, xanchor='center', color=TC),
    ann('Standardized δ<sup>18</sup>O<br>of stalagmite', 14, 608, 7, angle=-90, xanchor='center', color=TC),
    # right axis titles (one annotation per line)
    ann('30°N Insolation in June (W/m²)', 497, 92, 7.5, angle=-90, xanchor='center', color=TC),
    ann('Standardized total', 493, 238, 7, angle=-90, xanchor='center', color=TC),
    ann('solar irradiance', 501, 238, 7, angle=-90, xanchor='center', color=TC),
    ann('Standardized δ<sup>18</sup>O', 493, 402, 7, angle=-90, xanchor='center', color=TC),
    ann('of ostracode shells', 501, 402, 7, angle=-90, xanchor='center', color=TC),
    ann('Standardized δ<sup>18</sup>O', 493, 550, 7, angle=-90, xanchor='center', color=TC),
    ann('of stalagmite', 501, 550, 7, angle=-90, xanchor='center', color=TC),
    ann('Red colour intensity', 495, 706, 7.5, angle=-90, xanchor='center', color=TC),
]

fig.update_layout(
    width=W, height=H, autosize=False,
    margin=dict(l=ML, r=MR, t=MT, b=MB, pad=0),
    paper_bgcolor='white', plot_bgcolor='rgba(0,0,0,0)',
    showlegend=False,
    font=dict(family=FONT, color=INK),
    xaxis=dict(anchor='free', position=0, side='bottom', **xcommon),
    xaxis2=dict(anchor='free', position=1, side='top', overlaying='x', **xcommon),
    shapes=shapes, annotations=annotations,
    **layout_axes,
)

fig.write_html("out.html")
